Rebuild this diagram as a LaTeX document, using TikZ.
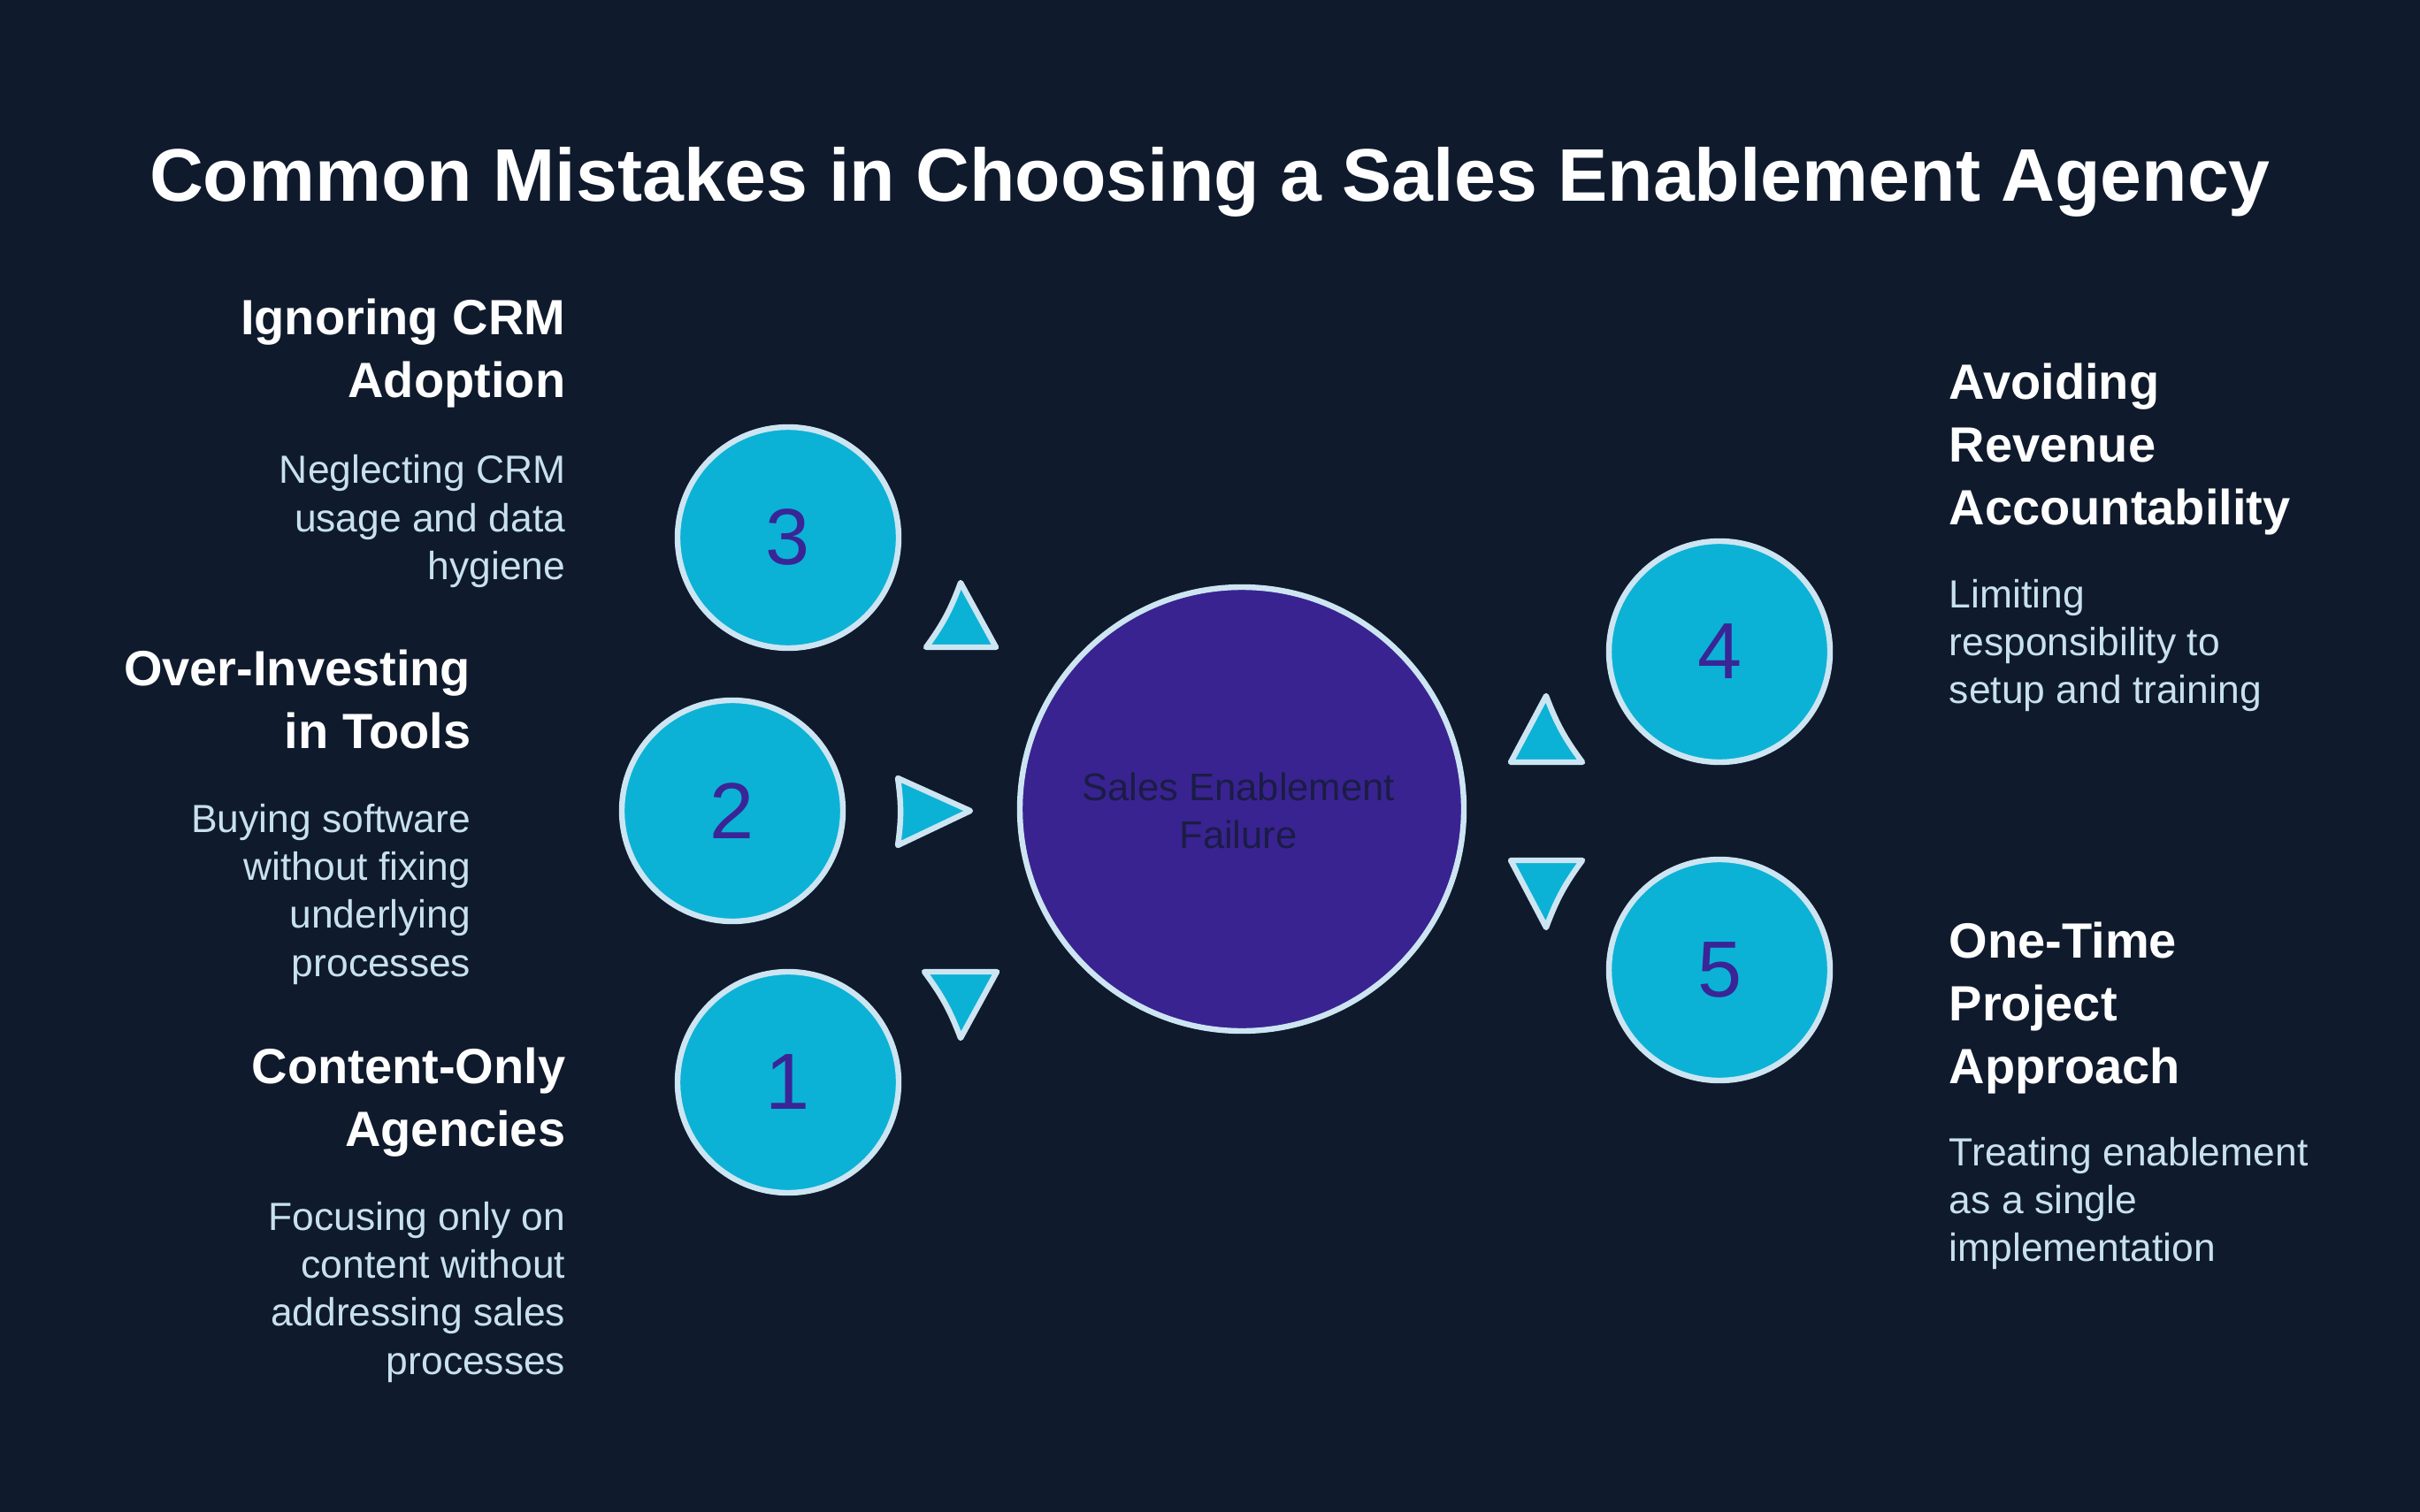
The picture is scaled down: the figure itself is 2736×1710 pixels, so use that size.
\documentclass[tikz,border=0pt]{standalone}
\usepackage{fontspec}
\setmainfont{Liberation Sans}
\definecolor{bg}{HTML}{0F1B2D}
\definecolor{cyanfill}{HTML}{0BB2D6}
\definecolor{rim}{HTML}{CDE5F2}
\definecolor{numcol}{HTML}{3A2596}
\definecolor{corefill}{HTML}{392391}
\definecolor{desccol}{HTML}{C8E0EF}
\definecolor{coretext}{HTML}{1B1C45}
\tikzset{
  numcircle/.style={circle, fill=cyanfill, draw=rim, line width=1.6pt, minimum size=62.5pt, inner sep=0pt, text=numcol, font=\fontsize{22.5}{27}\selectfont},
  core/.style={circle, fill=corefill, draw=rim, line width=1.6pt, minimum size=125.5pt, inner sep=0pt},
  coretxt/.style={text=coretext, inner sep=0pt, font=\fontsize{10.9}{13.5}\selectfont},
  head/.style={text=white, inner sep=0pt, font=\bfseries\fontsize{14}{17.75}\selectfont},
  desc/.style={text=desccol, inner sep=0pt, font=\fontsize{11.1}{13.6}\selectfont},
  titletxt/.style={text=white, inner sep=0pt, font=\bfseries\fontsize{21.07}{25}\selectfont},
  tri/.style={fill=cyanfill, draw=rim, line width=1.6pt, line join=round}
}
\newcommand{\rlines}[1]{\begin{tabular}[t]{@{}r@{}}#1\end{tabular}}
\newcommand{\llines}[1]{\begin{tabular}[t]{@{}l@{}}#1\end{tabular}}
\newcommand{\clines}[1]{\begin{tabular}[t]{@{}c@{}}#1\end{tabular}}
\begin{document}
\begin{tikzpicture}[x=0.25pt, y=-0.25pt]
  \fill[bg] (0,0) rectangle (2736,1710);
  \useasboundingbox (0,0) rectangle (2736,1710);

  \node[titletxt, anchor=base] (title) at (1368,228) {Common Mistakes in Choosing a Sales Enablement Agency};

  % circles
  \node[core] (core) at (1404,915) {};
  \node[coretxt, anchor=base] (coretext) at (1400,905) {\clines{Sales Enablement\\Failure}};
  \node[numcircle] (c3) at (891,608) {3};
  \node[numcircle] (c2) at (828,917) {2};
  \node[numcircle] (c1) at (891,1224) {1};
  \node[numcircle] (c4) at (1944,737) {4};
  \node[numcircle] (c5) at (1944,1097) {5};

  % triangles
  \draw[tri] (1086,659) to[bend left=8] (1047,732) -- (1126,732) -- cycle;
  \draw[tri] (1097,917) -- (1015,880) to[bend left=8] (1015,956) -- cycle;
  \draw[tri] (1045,1099) to[bend left=8] (1086,1174) -- (1127,1099) -- cycle;
  \draw[tri] (1748,787) -- (1708,862) -- (1789,862) to[bend left=8] cycle;
  \draw[tri] (1708,973) -- (1748,1049) to[bend left=8] (1789,973) -- cycle;

  % left texts
  \node[head, anchor=base east] (h3) at (640,379) {\rlines{Ignoring CRM\\Adoption}};
  \node[desc, anchor=base east] (d3) at (640,547) {\rlines{Neglecting CRM\\usage and data\\hygiene}};
  \node[head, anchor=base east] (h2) at (533,775) {\rlines{Over-Investing\\in Tools}};
  \node[desc, anchor=base east] (d2) at (533,941) {\rlines{Buying software\\without fixing\\underlying\\processes}};
  \node[head, anchor=base east] (h1) at (640,1225) {\rlines{Content-Only\\Agencies}};
  \node[desc, anchor=base east] (d1) at (640,1391) {\rlines{Focusing only on\\content without\\addressing sales\\processes}};

  % right texts
  \node[head, anchor=base west] (h4) at (2203,452) {\llines{Avoiding\\Revenue\\Accountability}};
  \node[desc, anchor=base west] (d4) at (2203,687) {\llines{Limiting\\responsibility to\\setup and training}};
  \node[head, anchor=base west] (h5) at (2203,1083) {\llines{One-Time\\Project\\Approach}};
  \node[desc, anchor=base west] (d5) at (2203,1318) {\llines{Treating enablement\\as a single\\implementation}};
\end{tikzpicture}
\end{document}
